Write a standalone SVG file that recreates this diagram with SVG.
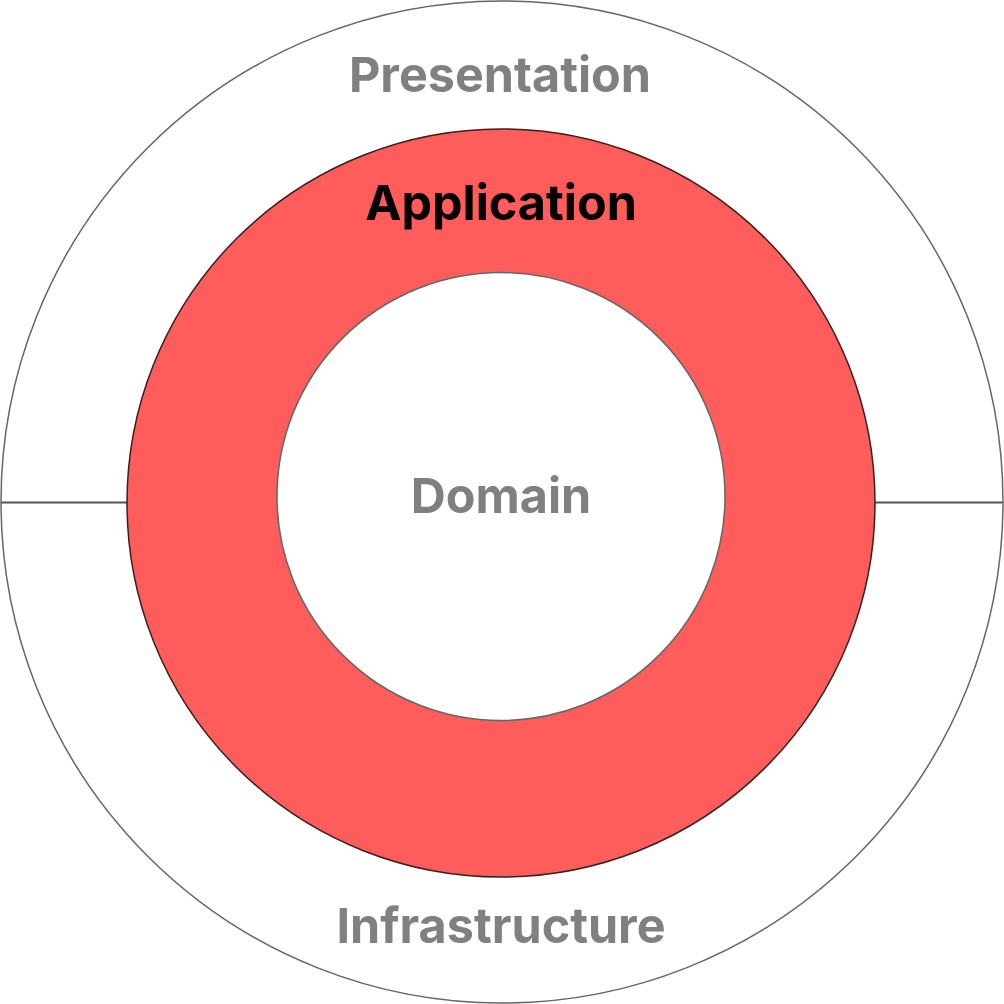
<svg xmlns="http://www.w3.org/2000/svg" width="1004" height="1004" viewBox="0 0 1004 1004">
  <style>
    .label { font-family: Inter, "Liberation Sans", sans-serif; font-weight: 700; font-size: 48.5px; text-anchor: middle; }
    .muted { fill: #808080; }
    .dark { fill: #000000; }
  </style>
  <rect width="1004" height="1004" fill="#ffffff"/>
  <g id="connectors">
    <line x1="1" y1="502.5" x2="127" y2="502.5" stroke="#555555" stroke-width="2"/>
    <line x1="875" y1="502.5" x2="1003" y2="502.5" stroke="#555555" stroke-width="2"/>
  </g>
  <g id="outer-ring">
    <circle cx="502" cy="502" r="501" fill="none" stroke="#666666" stroke-width="1.5"/>
    <text class="label muted" x="500" y="92">Presentation</text>
    <text class="label muted" x="501" y="943">Infrastructure</text>
  </g>
  <g id="application">
    <circle cx="501" cy="503" r="374" fill="#FF5C5C" stroke="#3a1f1f" stroke-width="1.5"/>
    <text class="label dark" x="501" y="220">Application</text>
  </g>
  <g id="domain">
    <circle cx="501" cy="496.5" r="224" fill="#ffffff" stroke="#666666" stroke-width="1.5"/>
    <text class="label muted" x="501" y="513">Domain</text>
  </g>
</svg>
